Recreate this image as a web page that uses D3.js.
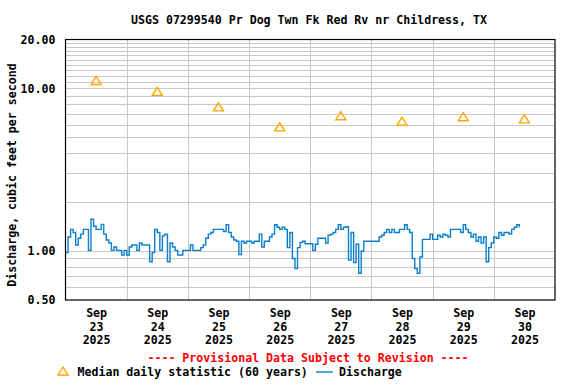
<!DOCTYPE html>
<meta charset="utf-8">
<style>
body { margin:0; background:#fff; }
text { font-family: "DejaVu Sans Mono", "Liberation Mono", monospace; font-weight: bold; font-size: 11.6px; }
</style>
<script src="https://d3js.org/d3.v7.min.js"></script>
<body>
<script>

var width = 576, height = 384
var left = 65.5, right = 555, top_ = 39.5, bottom = 300

var title = "USGS 07299540 Pr Dog Twn Fk Red Rv nr Childress, TX"
var startDate = new Date(2025, 8, 23)
var endDate = new Date(2025, 9, 1)

// daily medians (plotted at noon), sep 23..30
var medianDays = [23, 24, 25, 26, 27, 28, 29, 30]
var medianValues = [11.2, 9.6, 7.7, 5.8, 6.8, 6.3, 6.7, 6.5]

// hourly discharge from Sep 23 00:00, cfs
var dischargeValues = [
0.98,1.22,1.36,1.30,1.09,1.20,1.27,1.36,1.36,1.01,1.57,1.42,1.36,1.36,1.46,1.27,1.17,1.12,1.01,1.06,1.01,1.01,0.945,1.01,
0.945,1.06,1.09,1.09,1.01,1.12,1.09,1.09,1.09,0.86,0.98,1.36,1.30,1.01,1.24,1.27,0.86,1.12,1.06,1.01,0.945,0.945,1.01,1.01,
1.01,1.09,1.01,1.01,1.01,1.05,1.09,1.20,1.27,1.30,1.36,1.36,1.36,1.36,1.32,1.45,1.30,1.22,1.17,1.15,0.95,1.15,1.12,1.15,
1.15,1.12,1.15,1.15,1.27,1.06,1.15,1.15,1.22,1.27,1.45,1.40,1.36,1.40,1.36,1.05,1.30,0.90,0.78,1.05,1.13,1.15,1.11,1.11,
1.11,1.01,1.10,1.20,1.20,1.20,1.12,1.25,1.27,1.30,1.36,1.45,1.36,1.40,1.41,0.88,1.30,0.85,1.10,0.73,1.00,1.15,1.15,1.15,
1.15,1.15,1.15,1.22,1.25,1.30,1.36,1.30,1.36,1.30,1.30,1.36,1.36,1.45,1.36,1.30,0.90,0.78,0.73,0.92,1.18,1.18,1.18,1.27,
1.18,1.18,1.25,1.22,1.27,1.25,1.22,1.36,1.36,1.36,1.36,1.30,1.45,1.36,1.30,1.22,1.27,1.15,1.22,1.12,1.22,0.86,1.05,1.12,
1.22,1.20,1.30,1.25,1.30,1.30,1.27,1.36,1.40,1.45,1.40
]

var yTickValues = [0.5, 1, 10, 20]
var yGridValues = [0.6,0.7,0.8,0.9,1,2,3,4,5,6,7,8,9,10,11,12,13,14,15,16,17,18,19]

var svg = d3.select("body").append("svg").attr("width", width).attr("height", height)

var x = d3.scaleTime().domain([startDate, endDate]).range([left, right])
var y = d3.scaleLog().domain([0.5, 20]).range([bottom, top_])

var days = d3.timeDay.range(startDate, endDate)
var noons = days.map(d => d3.timeHour.offset(d, 12))

// grid
var grid = svg.append("g").attr("stroke", "#c8c8c8").attr("stroke-width", 1).attr("shape-rendering", "crispEdges")
grid.selectAll(".h").data(yGridValues).enter().append("line")
  .attr("x1", left).attr("x2", right)
  .attr("y1", d => Math.round(y(d)) + 0.5).attr("y2", d => Math.round(y(d)) + 0.5)
grid.selectAll(".v").data(days.slice(1)).enter().append("line")
  .attr("y1", top_).attr("y2", bottom)
  .attr("x1", d => Math.round(x(d)) + 0.5).attr("x2", d => Math.round(x(d)) + 0.5)

// discharge
var line = d3.line()
  .x((d, i) => x(d3.timeHour.offset(startDate, i)))
  .y(d => y(d))
  .curve(d3.curveStepAfter)
svg.append("path").datum(dischargeValues)
  .attr("fill", "none").attr("stroke", "#0a7fcd").attr("stroke-width", 1.4)
  .attr("d", line)

// medians - open triangle, box centred on value
var tri = "M0,-4L5,4L-5,4Z"
svg.selectAll(".med").data(medianValues).enter().append("path")
  .attr("transform", (d, i) => "translate(" + x(noons[i]) + "," + y(d) + ")")
  .attr("d", tri).attr("fill", "none").attr("stroke", "#ffa500").attr("stroke-width", 1.4)

// frame
svg.append("rect").attr("x", left).attr("y", top_).attr("width", right - left).attr("height", bottom - top_)
  .attr("fill", "none").attr("stroke", "#000").attr("stroke-width", 1.2)

// y axis
var yAxis = svg.append("g").attr("transform", "translate(" + (left - 7) + ",0)")
  .call(d3.axisLeft(y).tickValues(yTickValues).tickFormat(d3.format(".2f")).tickSize(0))
yAxis.select(".domain").remove()
yAxis.selectAll("text").attr("fill", "#000").style("font-size", "11.6px").style("font-family", null)

svg.append("text").attr("transform", "translate(16,175) rotate(-90)")
  .attr("text-anchor", "middle").text("Discharge, cubic feet per second")

// x axis
var xAxis = svg.append("g").attr("transform", "translate(0," + bottom + ")")
  .call(d3.axisBottom(x).tickValues(noons).tickSize(0).tickFormat(""))
xAxis.select(".domain").remove()
xAxis.selectAll(".tick").each(function(d, i) {
  var t = d3.select(this).append("text").attr("fill", "#000").attr("text-anchor", "middle")
  t.append("tspan").attr("x", 0).attr("y", 17).text("Sep")
  t.append("tspan").attr("x", 0).attr("y", 30.5).text(medianDays[i])
  t.append("tspan").attr("x", 0).attr("y", 44).text("2025")
})

svg.append("text").attr("x", 309).attr("y", 24).attr("text-anchor", "middle").text(title)

svg.append("text").attr("x", 308).attr("y", 362).attr("text-anchor", "middle").attr("fill", "#ff0000")
  .text("---- Provisional Data Subject to Revision ----")

// legend
svg.append("path").attr("transform", "translate(63,371)").attr("d", tri)
  .attr("fill", "none").attr("stroke", "#ffa500").attr("stroke-width", 1.4)
svg.append("text").attr("x", 77.5).attr("y", 376).text("Median daily statistic (60 years)")
svg.append("line").attr("x1", 316).attr("x2", 333).attr("y1", 372).attr("y2", 372)
  .attr("stroke", "#0a7fcd").attr("stroke-width", 1.4)
svg.append("text").attr("x", 339).attr("y", 376).text("Discharge")

</script>
